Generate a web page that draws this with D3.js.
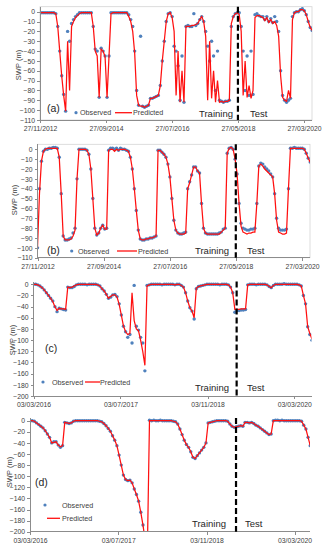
<!DOCTYPE html>
<meta charset="utf-8">
<style>
  body { margin: 0; background: #fff; }
  svg { display: block; font-family: "Liberation Sans", Arial, sans-serif; }
  .axis text { font-size: 6.8px; fill: #404040; }
  .axis line, .axis path { stroke: #8c8c8c; shape-rendering: crispEdges; }
  .lbl { fill: #262626; }
</style>
<svg id="chart" width="328" height="550"></svg>
<script src="https://cdn.jsdelivr.net/npm/d3@7"></script>
<script>
// tick labels
var xTicksAB = ["27/11/2012", "27/09/2014", "27/07/2016", "27/05/2018", "27/03/2020"];
var xTicksCD = ["03/03/2016", "03/07/2017", "03/11/2018", "03/03/2020"];
var yTicksAB = [0, -10, -20, -30, -40, -50, -60, -70, -80, -90, -100, -110];
var yTicksCD = [0, -20, -40, -60, -80, -100, -120, -140, -160, -180, -200];
var panelNames = ["(a)", "(b)", "(c)", "(d)"];
var seriesNames = ["Observed", "Predicted"];
var splitNames = ["Training", "Test"];
var splitAB = "27/05/2018", splitCD = "15/04/2019";

// (a),(b): one value every 20 days from 27/11/2012
var obsA = [-1,-1,-1,-1,-1,-1,-1,-1,-2, -15,-40,-65,-84,-101, -20,-30,-12,-8,-5,-3,-1,
  -1,-1,-1,-1,-1,-1, -15,-38,-40,-87,-37,-40,-45,-87,-45, -1,-1,-1,-1,-1,-1,-1,-1,-1,
  -3,-8,-15,-40,-80,-95,-25,-96,-97,-96,-95, -88,-88,-87,-86,-85,-75,-50,-30,-10,-2,-1,
  -5,-35,-40,-55,-90,-45,-92, -15,-14,-15,-15,-2,-14,-12, -8,-5,-10,-20,-35,-50,-30,-45,-80,-40,
  -90,-91,-92,-91,-91,-90, -15,-5,-2,-1,-1, -15,-40,-80,-45,-85,-40,-84,-3,-2,
  -4,-5,-5,-8,-5,-10,-7,-11,-5,-10, -20,-60,-85,-90,-92,-90,-88, -5,-1,0,0,2,3,1,-3,-10,-16,-19];
var predA = [-1,-1,-1,-1,-1,-1,-1,-1,-2, -15,-40,-65,-85,-101, -30,-80,-15,-10,-6,-4,-2,
  -1,-1,-1,-1,-1,-1, -15,-40,-45,-87,-38,-40,-46,-87,-45, -2,-1,-1,-1,-1,-1,-1,-1,-1,
  -5,-10,-20,-42,-85,-95,-96,-96,-97,-96,-95, -88,-88,-87,-86,-85,-75,-50,-30,-10,-2,-1,
  -6,-20,-85,-40,-92,-60,-92, -15,-15,-15,-14,-14,-13,-12, -8,-5,-10,-25,-90,-30,-88,-60,-92,-70,
  -92,-91,-92,-91,-91,-90, -12,-5,-2,-1,-3, -20,-85,-50,-87,-75,-88,-80,-6,-4,
  -4,-5,-6,-9,-6,-11,-8,-12,-10,-14, -25,-65,-87,-90,-91,-80,-88, -8,-1,0,0,2,2,1,-3,-10,-16,-19];
var obsB = [-100,-40,-12,-2,0,0,1,1,2,2,1, -8,-45,-88,-92,-92,-91,-90,-85,-80,-30,
  0,0,0,0,-1,-5,-20,-50,-80,-87,-85,-80,-77,-81,-80, -1,1,1,0,1,-1,1,0,0,-1,-2,
  -8,-20,-40,-62,-82,-91,-92,-92,-91,-91,-90,-90,-89,-88,
  -1,-1,-3,-5,-8,-15,-28,-50,-72,-82,-85,-86,-86,-85,-84, -40,-33,-26,-18,-18,-22,-24,
  -55,-80,-85,-86,-86,-86,-86,-86,-86,-85,-84,-81,-80, -4,1,2,0,
  -10,-25,-55,-75,-80,-81,-82,-82,-81,-81,-80, -55,-17,-14,-15,-18,-20,-22,-25,-28,
  -45,-70,-80,-82,-82,-82,-81,-40, 1,1,2,1,1,1,1,0,-4,-9,-13];
var predB = [-100,-45,-12,-2,0,1,1,1,1,1,1, -8,-45,-88,-92,-92,-92,-91,-88,-82,-30,
  0,0,0,0,-1,-5,-20,-50,-80,-87,-85,-80,-77,-81,-81, -1,0,0,-2,0,-1,0,0,0,-1,-2,
  -8,-20,-40,-62,-82,-91,-92,-92,-91,-91,-90,-90,-89,-88,
  -1,-1,-3,-5,-8,-15,-28,-50,-72,-82,-85,-86,-86,-86,-85, -40,-34,-26,-18,-18,-22,-24,
  -55,-80,-85,-86,-86,-86,-86,-86,-86,-86,-84,-82,-80, -4,1,2,0,
  -10,-25,-55,-78,-84,-85,-86,-85,-85,-84,-84, -55,-17,-15,-17,-20,-22,-24,-26,-28,
  -45,-72,-84,-85,-86,-86,-85,-40, 1,1,1,1,1,1,1,0,-4,-9,-13];

// (c),(d): one value every 12 days from 03/03/2016
var obsC = [0,0,-1,-3,-6,-10,-15,-20,-25,-30,-40, -49,-43,-44,-45,-46, -5,-6,-6,-4,-1,
  0,0,0,0,-1,0,0,0,0,-1, -3,-8,-12,-18,-25,-23,-19,-18,-22,-35,-55,-75,-85,-95,-90,
  -105,-2,-75,-82,-95,-105,-155,-2,-1, 0,0,0,0,0,-1,0,0,0,0,0,-1,0,0,
  -2,-5,-15,-30,-42,-48,-62,-8,-4,-3,-2,-1, 0,0,0,0,0,0,-1,0,0,0,-1,
  -5,-15,-50,-47,-47,-46,-46,-45, -1,0,0,0,-1,0,0,0,0,-1,-4,-6,-2,
  0,0,0,0,1,0,0,0,0,0,0,-1,-3, -20,-35,-76,-90,-100];
var predC = [0,0,-1,-3,-6,-10,-15,-20,-25,-31,-40, -47,-43,-44,-44,-45, -5,-6,-5,-3,-1,
  0,0,0,0,0,0,0,0,0,-1, -3,-8,-12,-18,-25,-22,-19,-19,-23,-36,-55,-75,-85,-90,-88,
  -15,-65,-80,-83,-100,-120,-145,-3,-1, 0,0,0,0,0,0,0,0,0,0,0,-1,0,0,
  -2,-5,-15,-30,-42,-48,-60,-7,-4,-3,-2,-1, 0,0,0,0,0,0,0,0,0,0,-1,
  -5,-15,-45,-45,-45,-44,-44,-44, -1,0,0,0,0,0,0,0,0,-1,-4,-6,-2,
  0,0,0,0,0,0,0,0,0,0,0,-1,-3, -20,-35,-76,-88,-98];
var obsD = [0,0,-1,-4,-7,-10,-13,-18,-24,-30,-40, -38,-38,-44,-48,-45, -3,-4,-5,-4,-1,
  0,0,0,0,0,0,0,0,0,0,0,-1, -2,-5,-9,-14,-19,-27,-35,-45,-62,-80,-98,
  -106,-108,-107,-112,-123,-133,-145,-165,-188,-215,-240, 1,0,1,0,0,1,0,0,0,0,0,-1,
  -2,-6,-15,-25,-35,-43,-48,-56,-66,-68,-63,-58,-53,-48,-40, -4,-3,-2,-1,0,0,0,0,0,-1,
  -6,-10,-12,-11,-10,-9,-10, -3,-3,-4,-3,-5,-8,-10,-13,-16,-19,-22,-25,-24,
  0,1,1,0,1,0,0,0,0,0,0,0,0,-1, -8,-15,-30,-45];
var predD = [0,0,-1,-4,-7,-10,-13,-18,-24,-30,-40, -39,-38,-44,-47,-45, -3,-4,-5,-4,-1,
  0,0,0,0,0,0,0,0,0,0,0,-1, -2,-5,-9,-14,-19,-27,-35,-45,-62,-80,-98,
  -106,-108,-107,-112,-123,-133,-145,-165,-188,-215,-240, 0,0,0,0,0,0,0,0,0,0,0,-1,
  -2,-6,-15,-25,-35,-43,-48,-56,-66,-68,-63,-58,-53,-48,-40, -4,-3,-2,-1,0,0,0,0,0,-1,
  -6,-10,-12,-11,-10,-9,-10, -3,-3,-4,-3,-5,-8,-10,-13,-16,-19,-22,-25,-24,
  0,0,0,0,0,0,0,0,0,0,0,0,0,-1, -8,-15,-30,-45];

var parse = d3.timeParse("%d/%m/%Y");
var svg = d3.select("#chart");

var panels = [
  {obs: obsA, pred: predA, start: "27/11/2012", step: 20, ticks: xTicksAB, yTicks: yTicksAB, yMin: -110, split: splitAB,
   left: 40, tickEnd: 304, right: 312, top: 6.7, zero: 11.7, bottom: 120, frame: true,
   name: 0, nameAt: [47, 112], titleAt: [18.5, 65], trainAt: [199, 116.5], testAt: [250, 116.5],
   legend: [[76, 112.7], [80, 115], [115, 132, 112.7], [133, 115]]},
  {obs: obsB, pred: predB, start: "27/11/2012", step: 20, ticks: xTicksAB, yTicks: yTicksAB, yMin: -110, split: splitAB,
   left: 37.5, tickEnd: 302, right: 310, top: 144.3, zero: 149.3, bottom: 257.7, frame: true,
   name: 1, nameAt: [47, 254], titleAt: [14, 200], trainAt: [195, 254], testAt: [247, 254],
   legend: [[71.7, 251], [78, 253.5], [117, 137, 251], [138, 253.5]]},
  {obs: obsC, pred: predC, start: "03/03/2016", step: 12, ticks: xTicksCD, yTicks: yTicksCD, yMin: -200, split: splitCD,
   left: 33.5, tickEnd: 294.3, right: 311.5, top: 281.5, zero: 284.3, bottom: 396, frame: false,
   name: 2, nameAt: [45, 352], titleAt: [12, 340], trainAt: [195, 390.5], testAt: [247, 390.5],
   legend: [[43, 382], [52, 384.5], [85, 100, 382], [100, 384.5]]},
  {obs: obsD, pred: predD, start: "03/03/2016", step: 12, ticks: xTicksCD, yTicks: yTicksCD, yMin: -200, split: splitCD,
   left: 30, tickEnd: 294.5, right: 310, top: 418, zero: 420.7, bottom: 531.7, frame: false,
   name: 3, nameAt: [35, 486], titleAt: [9, 472], trainAt: [192, 526.5], testAt: [245, 526.5],
   legend: [[45, 505], [62, 507.5], [47, 60, 518.3], [62, 521]]}
];

panels.forEach(function (p, k) {
  var t0 = parse(p.start);
  var x = d3.scaleTime()
    .domain([parse(p.ticks[0]), parse(p.ticks[p.ticks.length - 1])])
    .range([p.left, p.tickEnd]);
  var y = d3.scaleLinear().domain([p.yMin, 0]).range([p.bottom, p.zero]);
  var date = function (i) { return d3.timeDay.offset(t0, i * p.step); };

  var g = svg.append("g");

  if (p.frame) {
    g.append("rect")
      .attr("x", p.left).attr("y", p.top)
      .attr("width", p.right - p.left).attr("height", p.bottom - p.top)
      .attr("fill", "none").attr("stroke", "#d4d4d4").attr("stroke-width", 0.8);
  }

  g.append("clipPath").attr("id", "clip" + k)
    .append("rect")
    .attr("x", p.left).attr("y", p.top - 3)
    .attr("width", p.right - p.left).attr("height", p.bottom - p.top + 3);

  var plot = g.append("g").attr("clip-path", "url(#clip" + k + ")");

  plot.selectAll("circle")
    .data(p.obs)
    .enter().append("circle")
    .attr("cx", function (d, i) { return x(date(i)); })
    .attr("cy", function (d) { return y(d); })
    .attr("r", 1.7)
    .attr("fill", "#4f81bd");

  var line = d3.line()
    .x(function (d, i) { return x(date(i)); })
    .y(function (d) { return y(d); });

  plot.append("path")
    .datum(p.pred)
    .attr("d", line)
    .attr("fill", "none")
    .attr("stroke", "#ff1010")
    .attr("stroke-width", 1.25);

  // axes
  g.append("g")
    .attr("class", "y axis")
    .attr("transform", "translate(" + p.left + ",0)")
    .call(d3.axisLeft(y).tickValues(p.yTicks).tickSize(3).tickSizeOuter(0).tickPadding(2));
  g.select(".y.axis .domain").remove();
  g.append("line")
    .attr("x1", p.left).attr("x2", p.left).attr("y1", p.top).attr("y2", p.bottom)
    .attr("stroke", "#8c8c8c").attr("shape-rendering", "crispEdges");

  g.append("g")
    .attr("class", "x axis")
    .attr("transform", "translate(0," + p.bottom + ")")
    .call(d3.axisBottom(x).tickValues(p.ticks.map(parse))
      .tickFormat(d3.timeFormat("%d/%m/%Y")).tickSize(3).tickSizeOuter(0).tickPadding(3));
  g.select(".x.axis .domain").remove();
  g.append("line")
    .attr("x1", p.left).attr("x2", p.right).attr("y1", p.bottom).attr("y2", p.bottom)
    .attr("stroke", "#8c8c8c").attr("shape-rendering", "crispEdges");

  // training / test split
  var xs = x(parse(p.split));
  g.append("line")
    .attr("x1", xs).attr("x2", xs).attr("y1", p.top).attr("y2", p.bottom)
    .attr("stroke", "#000").attr("stroke-width", 2.2)
    .attr("stroke-dasharray", "6,3");

  g.append("text").attr("class", "lbl")
    .attr("x", p.trainAt[0]).attr("y", p.trainAt[1])
    .attr("font-size", "9.5px").text(splitNames[0]);
  g.append("text").attr("class", "lbl")
    .attr("x", p.testAt[0]).attr("y", p.testAt[1])
    .attr("font-size", "9.5px").text(splitNames[1]);

  g.append("text").attr("class", "lbl")
    .attr("x", p.nameAt[0]).attr("y", p.nameAt[1])
    .attr("font-size", "10.5px").text(panelNames[p.name]);

  g.append("text")
    .attr("transform", "translate(" + p.titleAt[0] + "," + p.titleAt[1] + ") rotate(-90)")
    .attr("text-anchor", "middle")
    .attr("dy", "0.35em")
    .attr("font-size", "7.5px")
    .attr("fill", "#404040")
    .text("SWP (m)");

  // legend
  var lg = p.legend;
  g.append("circle").attr("cx", lg[0][0]).attr("cy", lg[0][1]).attr("r", 1.6).attr("fill", "#4f81bd");
  g.append("text").attr("x", lg[1][0]).attr("y", lg[1][1])
    .attr("font-size", "7.2px").attr("fill", "#404040").text(seriesNames[0]);
  g.append("line").attr("x1", lg[2][0]).attr("x2", lg[2][1]).attr("y1", lg[2][2]).attr("y2", lg[2][2])
    .attr("stroke", "#ff1010").attr("stroke-width", 1.3);
  g.append("text").attr("x", lg[3][0]).attr("y", lg[3][1])
    .attr("font-size", "7.2px").attr("fill", "#404040").text(seriesNames[1]);
});
</script>
